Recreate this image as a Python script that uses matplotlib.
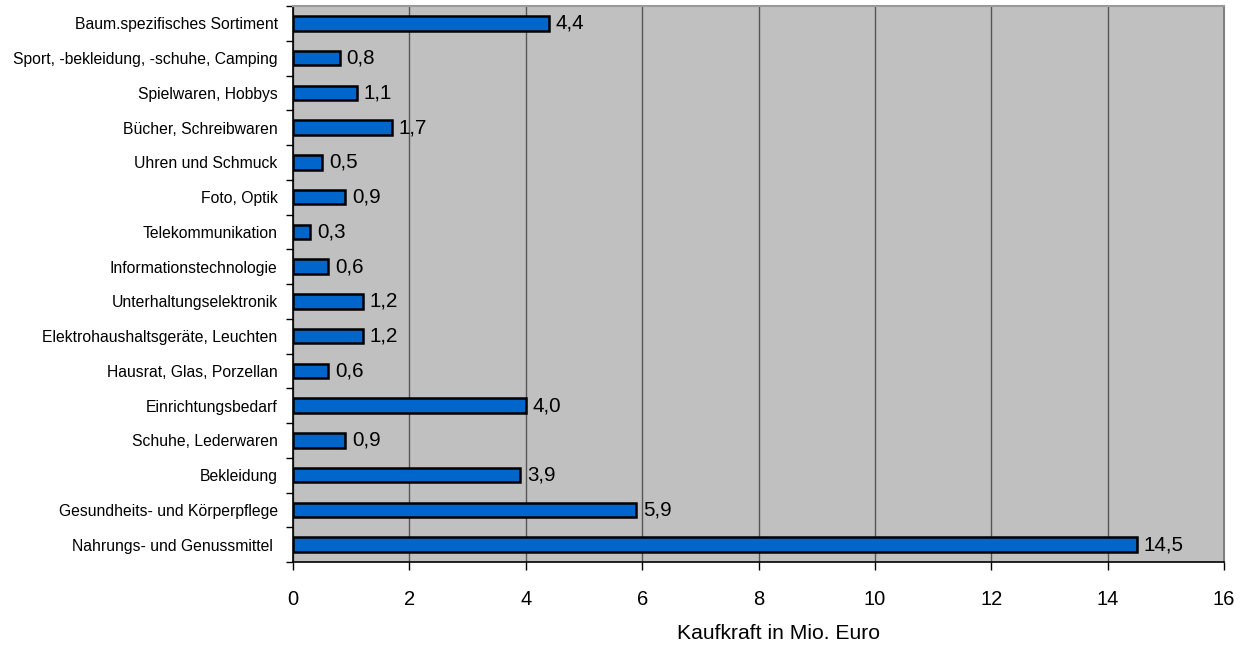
import matplotlib
matplotlib.use("Agg")
import matplotlib.pyplot as plt
import numpy as np

categories = [
    "Nahrungs- und Genussmittel ",
    "Gesundheits- und Körperpflege",
    "Bekleidung",
    "Schuhe, Lederwaren",
    "Einrichtungsbedarf",
    "Hausrat, Glas, Porzellan",
    "Elektrohaushaltsgeräte, Leuchten",
    "Unterhaltungselektronik",
    "Informationstechnologie",
    "Telekommunikation",
    "Foto, Optik",
    "Uhren und Schmuck",
    "Bücher, Schreibwaren",
    "Spielwaren, Hobbys",
    "Sport, -bekleidung, -schuhe, Camping",
    "Baum.spezifisches Sortiment",
]
values = [14.5, 5.9, 3.9, 0.9, 4.0, 0.6, 1.2, 1.2, 0.6, 0.3, 0.9, 0.5, 1.7, 1.1, 0.8, 4.4]
x_ticks = [0, 2, 4, 6, 8, 10, 12, 14, 16]
x_label = "Kaufkraft in Mio. Euro"

plt.rcParams["font.family"] = ["Liberation Sans", "DejaVu Sans"]

fig = plt.figure(figsize=(12.52, 6.45), dpi=100)
ax = fig.add_axes([293 / 1252, 1 - 562 / 645, (1224 - 293) / 1252, (562 - 6) / 645])
ax.set_facecolor("#c0c0c0")

y = np.arange(len(categories))
ax.barh(y, values, height=0.42, color="#0066cc", edgecolor="black", linewidth=1.8, zorder=3)

for yi, v in zip(y, values):
    ax.annotate(f"{v:.1f}".replace(".", ","), (v, yi), xytext=(5, 0),
                textcoords="offset points", va="center", ha="left", fontsize=14.8, zorder=4)

ax.set_xlim(0, 16)
ax.set_ylim(-0.5, len(categories) - 0.5)
ax.set_xticks(x_ticks)
ax.set_xticklabels([str(t) for t in x_ticks], fontsize=14.5)
ax.xaxis.grid(True, color="#555555", linewidth=1.0, zorder=1)
ax.set_axisbelow(True)

ax.set_yticks(y)
ax.set_yticklabels(categories, fontsize=11.3)
ax.set_yticks(np.arange(-0.5, len(categories), 1.0), minor=True)
ax.tick_params(axis="y", which="major", length=0, pad=11)
ax.tick_params(axis="y", which="minor", length=5, width=1, direction="out", color="black")
ax.tick_params(axis="x", length=6, width=1, direction="out", pad=14)

ax.set_xlabel(x_label, fontsize=15.2)
ax.xaxis.set_label_coords(0.521, -0.111)

ax.spines["left"].set_color("black")
ax.spines["left"].set_linewidth(1.2)
ax.spines["bottom"].set_color("black")
ax.spines["bottom"].set_linewidth(1.2)
ax.spines["top"].set_color("#999999")
ax.spines["top"].set_linewidth(1.5)
ax.spines["right"].set_color("#808080")
ax.spines["right"].set_linewidth(1.5)

fig.savefig("out.png", dpi=100, facecolor="white")
